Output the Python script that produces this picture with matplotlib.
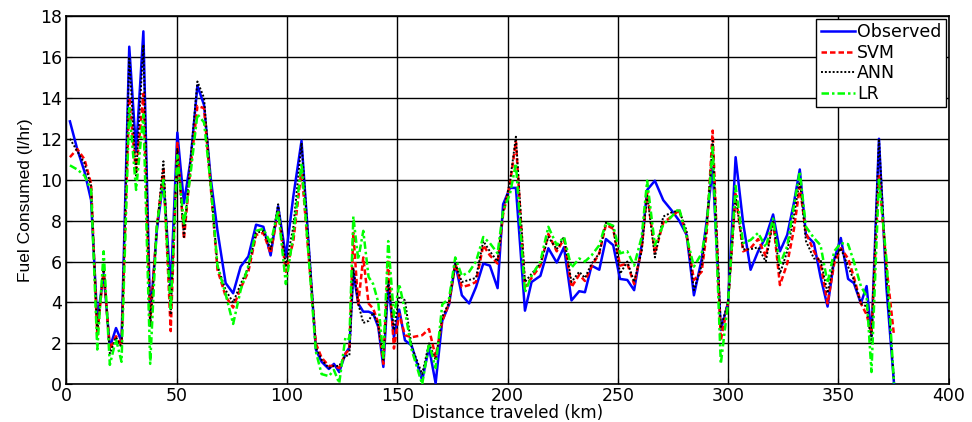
import matplotlib
matplotlib.use("Agg")
import matplotlib.pyplot as plt

plt.rcParams['font.family'] = ['DejaVu Sans']

distance_km = [1.6, 4.9, 8.2, 11.2, 14.0, 16.9, 19.7, 22.5, 25.0, 28.5,
               31.6, 34.9, 38.0, 41.0, 44.0, 47.3, 50.3, 53.3, 56.3, 59.4,
               62.4, 65.4, 68.5, 72.2, 75.6, 79.0, 82.5, 86.0, 89.3, 92.6,
               96.0, 99.5, 102.9, 106.6, 113.1, 115.7, 119.0, 121.3, 123.7, 126.5,
               128.3, 130.1, 132.3, 134.6, 137.0, 139.1, 141.4, 143.7, 145.9, 148.5,
               150.9, 153.5, 156.5, 161.3, 164.4, 167.4, 170.4, 173.5, 176.3, 179.3,
               182.6, 185.7, 189.0, 192.0, 195.5, 198.0, 201.1, 203.8, 207.9, 210.9,
               214.9, 218.5, 222.3, 225.6, 229.0, 232.5, 235.1, 238.1, 241.6, 244.6,
               247.9, 251.0, 254.3, 257.4, 260.8, 263.3, 266.8, 270.6, 274.4, 277.8,
               281.2, 284.5, 288.0, 290.3, 293.0, 296.7, 300.0, 303.4, 306.8, 310.2,
               313.6, 317.1, 320.4, 323.5, 326.8, 329.8, 332.5, 335.3, 338.9, 341.9,
               345.1, 348.1, 351.1, 354.4, 357.0, 360.2, 362.8, 365.0, 368.4, 371.8,
               375.2]

observed = [12.85, 11.5, 10.4, 9.0, 3.1, 5.4, 1.8, 2.75, 2.1, 16.5,
            11.4, 17.25, 3.2, 7.5, 10.0, 4.7, 12.3, 8.85, 10.95, 14.6,
            13.65, 10.1, 7.5, 4.95, 4.45, 5.75, 6.25, 7.8, 7.7, 6.3,
            8.7, 6.25, 9.2, 11.9, 1.7, 1.1, 0.75, 1.0, 0.6, 1.5,
            1.8, 5.5, 3.95, 3.55, 3.55, 3.45, 2.8, 0.85, 4.9, 2.3,
            3.65, 2.15, 1.9, 0.2, 1.8, 0.05, 3.1, 3.9, 5.9, 4.35,
            3.95, 4.75, 5.9, 5.8, 4.7, 8.8, 9.6, 9.6, 3.6, 5.0,
            5.3, 6.65, 5.95, 6.7, 4.1, 4.55, 4.5, 5.8, 5.6, 7.1,
            6.8, 5.15, 5.1, 4.6, 6.8, 9.5, 9.95, 9.0, 8.5, 8.0,
            7.3, 4.35, 6.1, 8.0, 10.6, 2.65, 4.0, 11.1, 7.9, 5.6,
            6.5, 7.2, 8.3, 6.5, 7.3, 8.85, 10.5, 7.3, 6.9, 5.25,
            3.8, 6.1, 7.15, 5.15, 4.95, 3.95, 4.8, 2.35, 12.0, 4.7,
            0.05]

svm = [11.1, 11.5, 11.0, 9.8, 2.4, 5.6, 1.7, 2.35, 1.9, 14.0,
       10.3, 14.2, 3.0, 7.7, 10.5, 2.6, 11.8, 7.1, 10.6, 13.6,
       13.5, 9.7, 5.6, 4.3, 3.75, 4.7, 5.5, 7.3, 7.4, 6.4,
       8.5, 5.5, 7.0, 10.5, 2.0, 1.3, 0.9, 0.9, 0.8, 1.5,
       1.7, 7.4, 3.9, 6.2, 3.95, 3.7, 3.0, 1.0, 6.1, 1.75,
       3.45, 2.4, 2.3, 2.4, 2.7, 1.35, 3.1, 3.95, 5.9, 4.75,
       4.85, 5.0, 6.8, 6.3, 5.9, 8.3, 9.8, 11.85, 4.75, 5.2,
       5.8, 7.35, 6.5, 7.1, 4.75, 5.35, 5.05, 5.75, 6.4, 7.8,
       7.6, 5.8, 5.9, 4.9, 6.6, 9.4, 6.4, 7.9, 8.2, 8.5,
       7.3, 5.1, 5.5, 7.4, 12.4, 2.15, 4.0, 9.3, 6.5, 6.65,
       7.1, 6.25, 8.0, 4.85, 5.9, 7.55, 9.65, 7.4, 6.5, 5.9,
       3.95, 5.9, 6.65, 6.15, 5.25, 3.95, 3.4, 2.5, 10.3, 5.75,
       2.4]

ann = [12.0, 11.4, 10.8, 9.7, 2.5, 5.8, 1.5, 2.3, 1.8, 16.0,
       10.2, 16.6, 2.8, 7.6, 10.9, 3.4, 11.5, 7.2, 11.0, 14.8,
       14.0, 9.8, 5.8, 4.6, 4.0, 4.9, 5.7, 7.4, 7.5, 6.6,
       8.8, 5.8, 7.7, 11.8, 1.8, 1.2, 0.8, 0.9, 0.9, 1.4,
       1.4, 5.7, 3.95, 3.0, 3.1, 3.5, 2.9, 1.2, 5.1, 2.65,
       4.3, 4.1, 1.85, 0.5, 2.0, 1.2, 3.3, 4.0, 5.9, 5.0,
       5.1, 5.2, 7.0, 6.5, 6.0, 8.4, 9.9, 12.1, 5.0, 5.4,
       5.9, 7.2, 6.6, 7.2, 5.0, 5.5, 5.2, 5.9, 6.4, 7.9,
       7.7, 5.4, 6.0, 5.0, 6.5, 9.3, 6.2, 8.2, 8.4, 8.5,
       7.5, 4.6, 5.8, 7.7, 11.9, 2.8, 4.0, 9.2, 6.6, 6.6,
       6.7, 6.0, 8.0, 5.4, 6.5, 8.2, 10.0, 7.0, 6.15, 6.1,
       4.45, 6.1, 6.65, 5.75, 5.1, 3.95, 3.8, 2.0, 12.0, 5.25,
       0.2]

lr = [10.7, 10.5, 10.2, 9.5, 1.7, 6.5, 0.95, 2.2, 1.1, 13.5,
      9.5, 13.2, 1.0, 7.8, 10.0, 3.6, 11.2, 7.8, 10.3, 13.2,
      12.8, 9.8, 5.8, 4.4, 2.95, 4.6, 5.8, 7.5, 7.6, 6.9,
      8.5, 4.9, 7.3, 10.8, 1.6, 0.5, 0.4, 0.7, 0.05, 2.3,
      2.2, 8.2, 6.1, 7.5, 5.25, 4.9, 4.0, 1.3, 7.0, 3.3,
      4.9, 3.6, 1.7, 0.0, 2.0, 0.8, 3.9, 4.2, 6.2, 5.3,
      5.5, 6.0, 7.2, 6.9, 6.4, 8.5, 9.3, 10.8, 4.5, 5.3,
      6.0, 7.7, 6.8, 7.2, 5.7, 6.15, 6.0, 6.3, 6.8, 7.9,
      7.75, 6.4, 6.5, 5.8, 7.2, 9.95, 6.8, 7.8, 8.2, 8.6,
      7.2, 5.75, 6.4, 7.7, 11.6, 1.0, 4.0, 9.7, 6.9, 7.05,
      7.4, 6.7, 8.1, 5.85, 6.75, 8.7, 10.4, 7.7, 7.15, 6.8,
      4.95, 6.5, 6.9, 6.85, 6.0, 4.8, 4.3, 0.6, 10.0, 6.1,
      0.05]

x_ticks = [0, 50, 100, 150, 200, 250, 300, 350, 400]
y_ticks = [0, 2, 4, 6, 8, 10, 12, 14, 16, 18]

fig = plt.figure(figsize=(9.72, 4.22), dpi=100)
ax = fig.add_axes([0.0683, 0.0893, 0.9077, 0.8728])

ax.plot(distance_km, observed, color='#0000FF', lw=1.8, ls='-', label='Observed', zorder=3)
ax.plot(distance_km, svm, color='#FF0000', lw=1.8, ls=(0, (2.2, 1.2)), label='SVM', zorder=4)
ax.plot(distance_km, ann, color='#000000', lw=1.4, ls=(0, (1, 1)), label='ANN', zorder=5)
ax.plot(distance_km, lr, color='#00FF00', lw=1.8, ls=(0, (3, 1.2, 1, 1.2)), label='LR', zorder=6)

ax.set_xlim(0, 400)
ax.set_ylim(0, 18)
ax.set_xticks(x_ticks)
ax.set_yticks(y_ticks)
ax.grid(True, color='black', lw=1.0, ls='-')
ax.set_axisbelow(True)
ax.tick_params(direction='in', length=4, labelsize=12.5, colors='black')
ax.tick_params(axis='x', pad=2)
ax.tick_params(axis='y', pad=3)
for s in ax.spines.values():
    s.set_linewidth(1.2)
    s.set_color('black')

ax.set_xlabel('Distance traveled (km)', fontsize=12, labelpad=-1)
ax.set_ylabel('Fuel Consumed (l/hr)', fontsize=12.5, labelpad=5,
              family=['Liberation Sans', 'DejaVu Sans'])

leg = ax.legend(loc='upper right', fontsize=12.5, frameon=True, fancybox=False,
                framealpha=1, edgecolor='black', borderaxespad=0.17,
                handlelength=2.0, handletextpad=0.1, borderpad=0.25,
                labelspacing=0.15)
leg.get_frame().set_linewidth(1.0)

fig.savefig('out.png', dpi=100)
